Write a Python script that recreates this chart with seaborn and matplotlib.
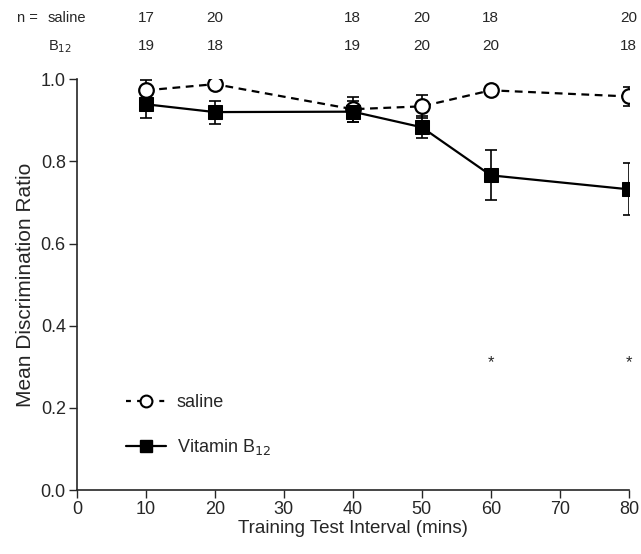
import matplotlib
matplotlib.use("Agg")
import matplotlib.pyplot as plt
import seaborn as sns
import pandas as pd
from matplotlib.lines import Line2D

# values
intervals = [10, 20, 40, 50, 60, 80]
saline_mean = [0.973, 0.988, 0.927, 0.934, 0.973, 0.958]
saline_sem = [0.025, 0.010, 0.030, 0.028, 0.010, 0.024]
b12_mean = [0.939, 0.920, 0.921, 0.883, 0.766, 0.732]
b12_sem = [0.034, 0.028, 0.026, 0.027, 0.061, 0.063]
n_saline = [17, 20, 18, 20, 18, 20]
n_b12 = [19, 18, 19, 20, 20, 18]
signif_at = [60, 80]

df = pd.concat([
    pd.DataFrame({'interval': intervals, 'ratio': saline_mean, 'sem': saline_sem, 'group': 'saline'}),
    pd.DataFrame({'interval': intervals, 'ratio': b12_mean, 'sem': b12_sem, 'group': 'B12'}),
])

sns.set_style("ticks")
plt.rcParams['font.family'] = ['Liberation Sans', 'DejaVu Sans']

fig = plt.figure(figsize=(6.41, 5.54), dpi=100)
ax = fig.add_axes([0.120, 0.1155, 0.861, 0.7415])

# error bars first so the markers sit on top
for g, d in df.groupby('group'):
    ax.errorbar(d['interval'], d['ratio'], yerr=d['sem'], fmt='none',
                ecolor='black', elinewidth=1.2, capsize=4, capthick=1.2, zorder=2)

sns.lineplot(data=df, x='interval', y='ratio', hue='group', style='group',
             hue_order=['saline', 'B12'], style_order=['saline', 'B12'],
             palette={'saline': 'black', 'B12': 'black'},
             dashes={'saline': (3.5, 2.5), 'B12': ''},
             markers={'saline': 'o', 'B12': 's'},
             markersize=11, linewidth=1.6, legend=False, ax=ax, zorder=3)

# saline circles are open
for line in ax.lines:
    if line.get_marker() == 'o':
        line.set_markerfacecolor('white')
        line.set_markeredgecolor('black')
        line.set_markeredgewidth(1.6)
        line.set_markersize(10.5)
    elif line.get_marker() == 's':
        line.set_markerfacecolor('black')
        line.set_markeredgecolor('black')
        line.set_markersize(10)

for x in signif_at:
    ax.text(x, 0.31, '*', ha='center', va='center', fontsize=12)

ax.set_xlim(0, 80)
ax.set_ylim(0, 1.0)
ax.set_xticks(range(0, 81, 10))
ax.set_yticks([0.0, 0.2, 0.4, 0.6, 0.8, 1.0])
ax.set_yticklabels(['0.0', '0.2', '0.4', '0.6', '0.8', '1.0'])
ax.tick_params(labelsize=13, length=6, width=1, direction='out', pad=2)
ax.set_xlabel('Training Test Interval (mins)', fontsize=13.5, labelpad=1)
ax.set_ylabel('Mean Discrimination Ratio', fontsize=15, labelpad=4)
sns.despine(ax=ax)
for s in ['left', 'bottom']:
    ax.spines[s].set_linewidth(1.2)

# n counts above the plot
ty1, ty2 = 1.148, 1.080
ax.text(-8.7, ty1, 'n =', ha='left', va='center', fontsize=10.5, clip_on=False)
ax.text(-4.2, ty1, 'saline', ha='left', va='center', fontsize=10.5, clip_on=False)
ax.text(-4.2, ty2, 'B$_{12}$', ha='left', va='center', fontsize=10.5, clip_on=False)
for x, a, b in zip(intervals, n_saline, n_b12):
    ax.text(x, ty1, str(a), ha='center', va='center', fontsize=11, clip_on=False)
    ax.text(x, ty2, str(b), ha='center', va='center', fontsize=11, clip_on=False)

handles = [
    Line2D([], [], color='black', linestyle=(0, (2.2, 2.8)), linewidth=1.6, marker='o',
           markerfacecolor='white', markeredgecolor='black', markersize=8.5, markeredgewidth=1.5),
    Line2D([], [], color='black', linestyle='-', linewidth=1.6, marker='s',
           markerfacecolor='black', markersize=8.5),
]
ax.legend(handles, ['saline', 'Vitamin B$_{12}$'], loc='center left',
          bbox_to_anchor=(0.06, 0.157), frameon=False, fontsize=13,
          handlelength=2.2, labelspacing=1.45, handletextpad=0.6)

fig.savefig('out.png', dpi=100)
